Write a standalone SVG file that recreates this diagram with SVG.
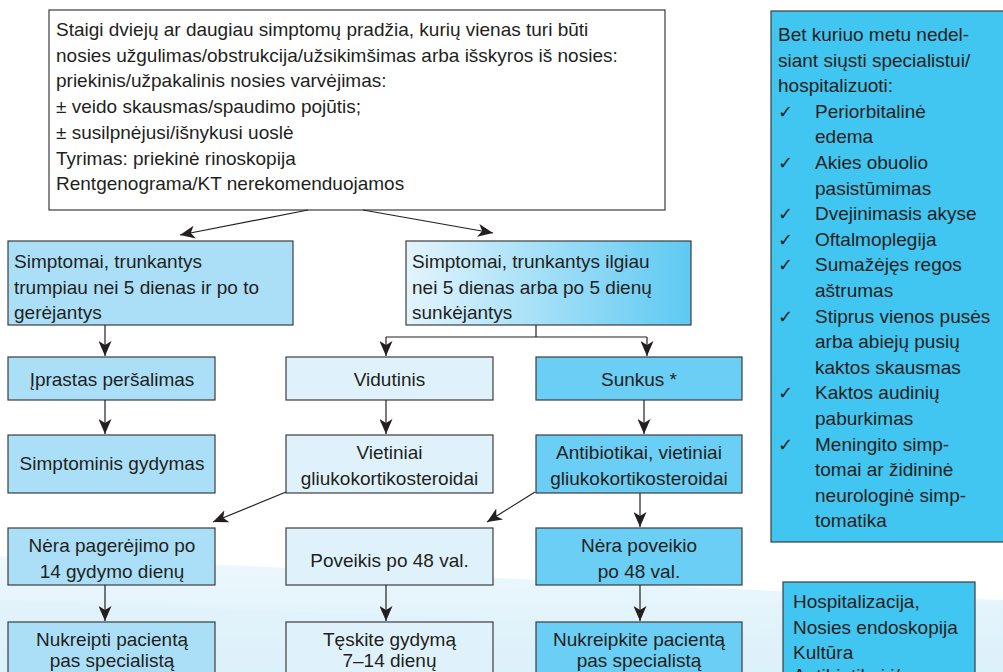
<svg xmlns="http://www.w3.org/2000/svg" width="1003" height="672" viewBox="0 0 1003 672">
  <defs>
    <marker id="arrow" markerUnits="userSpaceOnUse" markerWidth="16" markerHeight="13" refX="15" refY="6.5" orient="auto">
      <path d="M0,0 L15,6.5 L0,13 L4,6.5 Z" fill="#231f20"/>
    </marker>
    <linearGradient id="grad-long" x1="0" y1="0" x2="1" y2="0">
      <stop offset="0" stop-color="#e3f4fc"/>
      <stop offset="1" stop-color="#5ec9f2"/>
    </linearGradient>
    <linearGradient id="grad-wave" x1="0" y1="0" x2="0" y2="1">
      <stop offset="0" stop-color="#eef8fd"/>
      <stop offset="1" stop-color="#d9eff9"/>
    </linearGradient>
  </defs>
  <style>
    text { font-family: "Liberation Sans", Arial, sans-serif; font-size: 19px; fill: #231f20; }
    .c { text-anchor: middle; }
    .box { stroke: #3c3c3c; stroke-width: 1.2; }
    .white { fill: #ffffff; }
    .pale { fill: #dff2fb; }
    .light { fill: #abdff8; }
    .mid { fill: #6acef5; }
    .deep { fill: #41c5f1; }
    .chk { font-family: "DejaVu Sans", sans-serif; font-size: 18px; }
    #connectors path { fill: none; stroke: #231f20; stroke-width: 1.2; }
  </style>

  <rect width="1003" height="672" fill="#ffffff"/>
  <!-- soft wave band along the bottom -->
  <path d="M0,556 C300,566 650,588 1003,600 L1003,672 L0,672 Z" fill="url(#grad-wave)"/>
  <path d="M0,600 C320,612 660,628 1003,640 L1003,672 L0,672 Z" fill="#dff1fa" opacity="0.6"/>

  <g id="start">
    <rect class="box white" x="49" y="10" width="616" height="200"/>
    <text x="56" y="36">Staigi dviejų ar daugiau simptomų pradžia, kurių vienas turi būti</text>
    <text x="56" y="61.7">nosies užgulimas/obstrukcija/užsikimšimas arba išskyros iš nosies:</text>
    <text x="56" y="87.4">priekinis/užpakalinis nosies varvėjimas:</text>
    <text x="56" y="113">± veido skausmas/spaudimo pojūtis;</text>
    <text x="56" y="138.8">± susilpnėjusi/išnykusi uoslė</text>
    <text x="56" y="164.5">Tyrimas: priekinė rinoskopija</text>
    <text x="56" y="190">Rentgenograma/KT nerekomenduojamos</text>
  </g>

  <g id="short">
    <rect class="box light" x="8" y="241" width="285" height="84"/>
    <text x="14" y="268">Simptomai, trunkantys</text>
    <text x="14" y="294">trumpiau nei 5 dienas ir  po to</text>
    <text x="14" y="319">gerėjantys</text>
  </g>

  <g id="long">
    <rect class="box" fill="url(#grad-long)" x="406" y="241" width="285" height="84"/>
    <text x="412" y="268">Simptomai, trunkantys ilgiau</text>
    <text x="412" y="294">nei 5 dienas arba po 5 dienų</text>
    <text x="412" y="319">sunkėjantys</text>
  </g>

  <g id="common-cold">
    <rect class="box light" x="8" y="357" width="207" height="43"/>
    <text class="c" x="112" y="386">Įprastas peršalimas</text>
  </g>
  <g id="moderate">
    <rect class="box pale" x="286" y="357" width="207" height="43"/>
    <text class="c" x="389.5" y="386">Vidutinis</text>
  </g>
  <g id="severe">
    <rect class="box mid" x="536" y="357" width="206" height="43"/>
    <text class="c" x="639" y="386">Sunkus *</text>
  </g>

  <g id="symptomatic">
    <rect class="box light" x="8" y="435" width="207" height="58"/>
    <text class="c" x="112" y="470">Simptominis gydymas</text>
  </g>
  <g id="steroids">
    <rect class="box pale" x="286" y="435" width="207" height="58"/>
    <text class="c" x="389.5" y="459">Vietiniai</text>
    <text class="c" x="389.5" y="485">gliukokortikosteroidai</text>
  </g>
  <g id="antibiotics">
    <rect class="box mid" x="536" y="435" width="206" height="58"/>
    <text class="c" x="639" y="459">Antibiotikai, vietiniai</text>
    <text class="c" x="639" y="485">gliukokortikosteroidai</text>
  </g>

  <g id="no-improvement">
    <rect class="box light" x="8" y="528" width="207" height="57"/>
    <text class="c" x="112" y="552">Nėra pagerėjimo po</text>
    <text class="c" x="112" y="578">14 gydymo dienų</text>
  </g>
  <g id="effect">
    <rect class="box pale" x="286" y="528" width="207" height="57"/>
    <text class="c" x="389.5" y="567">Poveikis po 48 val.</text>
  </g>
  <g id="no-effect">
    <rect class="box mid" x="536" y="528" width="206" height="57"/>
    <text class="c" x="639" y="552">Nėra poveikio</text>
    <text class="c" x="639" y="578">po 48 val.</text>
  </g>

  <g id="refer-left">
    <rect class="box light" x="8" y="622" width="207" height="60"/>
    <text class="c" x="112" y="646">Nukreipti pacientą</text>
    <text class="c" x="112" y="667">pas specialistą</text>
  </g>
  <g id="continue">
    <rect class="box pale" x="286" y="622" width="207" height="60"/>
    <text class="c" x="389.5" y="646">Tęskite gydymą</text>
    <text class="c" x="389.5" y="667">7–14 dienų</text>
  </g>
  <g id="refer-right">
    <rect class="box mid" x="536" y="622" width="206" height="60"/>
    <text class="c" x="639" y="646">Nukreipkite pacientą</text>
    <text class="c" x="639" y="667">pas specialistą</text>
  </g>

  <g id="urgent">
    <rect class="box deep" x="771" y="11" width="245" height="531"/>
    <text x="778" y="41">Bet kuriuo metu nedel-</text>
    <text x="778" y="66.6">siant siųsti specialistui/</text>
    <text x="778" y="92.2">hospitalizuoti:</text>
    <text class="chk" x="778" y="117.8">✓</text>
    <text x="815" y="117.8">Periorbitalinė</text>
    <text x="815" y="143.4">edema</text>
    <text class="chk" x="778" y="169">✓</text>
    <text x="815" y="169">Akies obuolio</text>
    <text x="815" y="194.6">pasistūmimas</text>
    <text class="chk" x="778" y="220.2">✓</text>
    <text x="815" y="220.2">Dvejinimasis akyse</text>
    <text class="chk" x="778" y="245.8">✓</text>
    <text x="815" y="245.8">Oftalmoplegija</text>
    <text class="chk" x="778" y="271.4">✓</text>
    <text x="815" y="271.4">Sumažėjęs regos</text>
    <text x="815" y="297">aštrumas</text>
    <text class="chk" x="778" y="322.6">✓</text>
    <text x="815" y="322.6">Stiprus vienos pusės</text>
    <text x="815" y="348.2">arba abiejų pusių</text>
    <text x="815" y="373.8">kaktos skausmas</text>
    <text class="chk" x="778" y="399.4">✓</text>
    <text x="815" y="399.4">Kaktos audinių</text>
    <text x="815" y="425">paburkimas</text>
    <text class="chk" x="778" y="450.6">✓</text>
    <text x="815" y="450.6">Meningito simp-</text>
    <text x="815" y="476.2">tomai  ar židininė</text>
    <text x="815" y="501.8">neurologinė simp-</text>
    <text x="815" y="527.4">tomatika</text>
  </g>

  <g id="hospital">
    <rect class="box deep" x="783" y="582" width="192" height="110"/>
    <text x="793" y="608">Hospitalizacija,</text>
    <text x="793" y="633.5">Nosies endoskopija</text>
    <text x="793" y="659">Kultūra</text>
    <text x="793" y="682">Antibiotikai i/v</text>
  </g>

  <g id="connectors">
    <path d="M308,210 L180,235" marker-end="url(#arrow)"/>
    <path d="M363,210 L493,233" marker-end="url(#arrow)"/>
    <path d="M105,325 V356" marker-end="url(#arrow)"/>
    <path d="M105,400 V434" marker-end="url(#arrow)"/>
    <path d="M536,325 V337 M386,337 H647"/>
    <path d="M386,337 V356" marker-end="url(#arrow)"/>
    <path d="M647,337 V356" marker-end="url(#arrow)"/>
    <path d="M386,400 V434" marker-end="url(#arrow)"/>
    <path d="M644,400 V434" marker-end="url(#arrow)"/>
    <path d="M286,492 L213,522" marker-end="url(#arrow)"/>
    <path d="M535,492 L487,522" marker-end="url(#arrow)"/>
    <path d="M640,493 V527" marker-end="url(#arrow)"/>
    <path d="M105,585 V621" marker-end="url(#arrow)"/>
    <path d="M386,585 V621" marker-end="url(#arrow)"/>
    <path d="M640,585 V621" marker-end="url(#arrow)"/>
  </g>
</svg>
